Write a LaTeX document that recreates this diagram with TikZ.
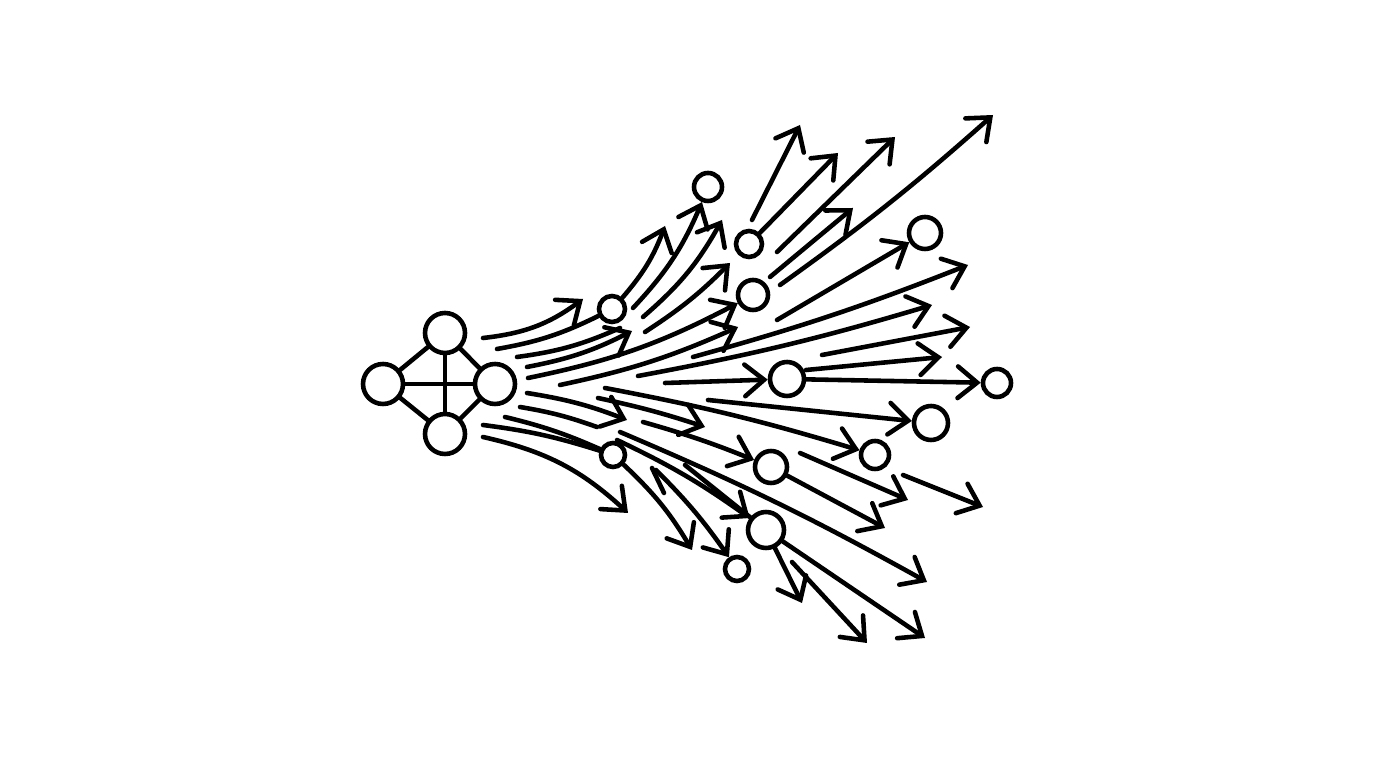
\documentclass[tikz,border=0pt]{standalone}
\usepackage{tikz}
\usetikzlibrary{arrows.meta}

\begin{document}
\begin{tikzpicture}[x=0.1mm,y=-0.1mm,line width=1.3pt,line cap=round,
  flow/.style={-{Straight Barb[length=5.5pt,width=9pt,line cap=round]}}]
\tikzstyle{every node}=[draw, shape=circle, inner sep=0pt, line width=1.3pt];
\useasboundingbox (0,0) rectangle (1376,768);
   % hub
   \node[minimum size=4.0mm] (h1) at (383,384) {};
   \node[minimum size=4.0mm] (h2) at (445,333) {};
   \node[minimum size=4.0mm] (h3) at (495,384) {};
   \node[minimum size=4.0mm] (h4) at (445,434) {};
  \foreach \from/\to in {h1/h2,h2/h3,h3/h4,h4/h1,h1/h3,h2/h4}
    \draw (\from) -- (\to);
   % small circles
   \node[minimum size=2.6mm] (c1) at (612,309) {};
   \node[minimum size=2.8mm] (c2) at (708,187) {};
   \node[minimum size=2.6mm] (c3) at (749,244) {};
   \node[minimum size=3.0mm] (c4) at (753,295) {};
   \node[minimum size=3.2mm] (c5) at (925,233) {};
   \node[minimum size=3.4mm] (c6) at (787,379) {};
   \node[minimum size=2.8mm] (c7) at (997,383) {};
   \node[minimum size=3.4mm] (c8) at (931,423) {};
   \node[minimum size=2.8mm] (c9) at (875,455) {};
   \node[minimum size=3.2mm] (c10) at (771,467) {};
   \node[minimum size=2.4mm] (c11) at (613,455) {};
   \node[minimum size=3.6mm] (c12) at (766,530) {};
   \node[minimum size=2.4mm] (c13) at (737,569) {};
  % upper fan
  \foreach \x/\y/\u/\v/\b in {483/338/583/299/15, 527/367/632/331/8,
      560/385/738/327/6, 643/317/722/220/10, 645/332/730/263/6,
      693/357/968/265/3, 638/376/932/305/3, 822/355/970/327/0,
      806/370/942/357/0, 752/220/800/125/0, 777/252/895/137/0,
      770/277/853/208/0, 780/285/993/115/3}
    \draw[flow] (\x,\y) to[bend right=\b] (\u,\v);
  \draw (497,349) to[bend right=8] (c1);
  \draw[flow] (c1) to[bend right=10] (665,226);
  \draw (517,357) to[bend right=8] (620,328);
  \draw[flow] (528,378) to[bend right=8] (c4);
  \draw[flow] (633,308) to[bend right=10] (c2);
  \draw[flow] (c3) -- (838,153);
  \draw[flow] (777,320) -- (c5);
  \draw[flow] (665,383) -- (c6);
  \draw[flow] (c6) -- (c7);
  % lower fan
  \foreach \x/\y/\u/\v/\b in {527/393/627/420/6, 483/437/628/513/15,
      598/398/705/427/3, 620/432/927/582/3, 800/453/908/500/0,
      903/475/983/507/0, 792/562/867/643/0}
    \draw[flow] (\x,\y) to[bend left=\b] (\u,\v);
  \draw (520,407) to[bend left=5] (597,427);
  \draw (652,468) -- (664,493);
  \draw (505,417) to[bend left=5] (c11);
  \draw (483,425) to[bend left=5] (c11);
  \draw[flow] (c11) to[bend left=8] (692,550);
  \draw[flow] (605,388) to[bend left=3] (c9);
  \draw[flow] (708,400) -- (c8);
  \draw[flow] (643,422) to[bend left=3] (c10);
  \draw[flow] (617,440) to[bend left=5] (c12);
  \draw (685,465) -- (c12);
  \draw[flow] (c12) -- (925,638);
  \draw[flow] (c10) -- (885,528);
  \draw[flow] (c12) -- (802,603);
  \draw[flow] (656,470) to[bend left=5] (c13);
\end{tikzpicture}
\end{document}
